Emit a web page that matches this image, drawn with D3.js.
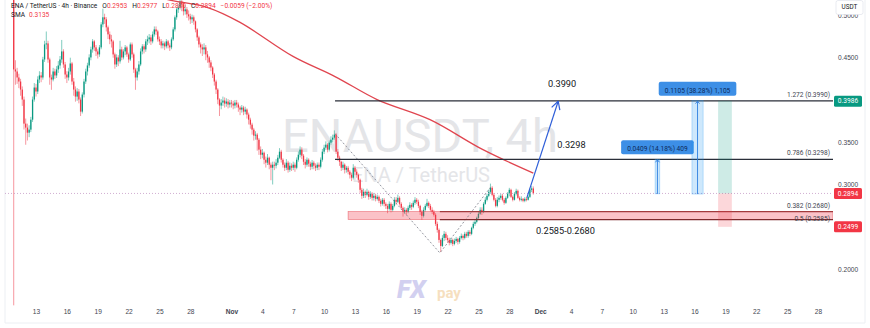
<!DOCTYPE html>
<html>
<head>
<meta charset="utf-8">
<script src="https://cdn.jsdelivr.net/npm/d3@7"></script>
<style>
  html, body { margin: 0; padding: 0; background: #fff; }
  svg { display: block; font-family: Roboto, "Liberation Sans", Arial, sans-serif; }
</style>
</head>
<body>
<svg id="chart" width="870" height="328"></svg>
<script>
// ENA / TetherUS 4h candles, first candle 2025-10-10 00:00 UTC
const firstOpen = 0.580

const closes = [
  0.582,0.588,0.577,0.584,0.571,0.4361,            // Oct 10
  0.4337,0.4266,0.4218,0.4123,0.4005,0.3720,       // Oct 11
  0.3673,0.3613,0.3649,0.3767,0.4005,0.4147,
  0.4100,0.4242,0.4290,0.4266,0.4479,0.4657,       // Oct 13
  0.4669,0.4479,0.4266,0.4242,0.4337,0.4290,
  0.4361,0.4408,0.4479,0.4574,0.4420,0.4301,
  0.4266,0.4337,0.4432,0.4218,0.4123,0.4040,       // Oct 16
  0.4100,0.4005,0.3862,0.4064,0.4218,0.4337,
  0.4408,0.4503,0.4598,0.4693,0.4622,0.4574,
  0.4539,0.4622,0.4894,0.4978,0.4954,0.4859,       // Oct 19
  0.4776,0.4717,0.4693,0.4539,0.4420,0.4503,
  0.4456,0.4598,0.4503,0.4574,0.4622,0.4539,
  0.4479,0.4657,0.4539,0.4361,0.4266,0.4337,       // Oct 22
  0.4420,0.4574,0.4634,0.4598,0.4693,0.4717,
  0.4740,0.4693,0.4776,0.4835,0.4811,0.4717,
  0.4693,0.4645,0.4669,0.4634,0.4693,0.4645,       // Oct 25
  0.4622,0.4717,0.4835,0.4978,0.5072,0.5096,
  0.5167,0.5132,0.5049,0.5072,0.5013,0.4989,
  0.4954,0.4978,0.4930,0.4835,0.4740,0.4657,       // Oct 28
  0.4622,0.4598,0.4622,0.4539,0.4503,0.4444,
  0.4384,0.4301,0.4218,0.4123,0.4005,0.3934,
  0.3969,0.3993,0.3957,0.3981,0.3946,0.3969,       // Oct 31
  0.3957,0.3934,0.3969,0.3946,0.3910,0.3886,
  0.3910,0.3862,0.3886,0.3827,0.3767,0.3708,
  0.3649,0.3578,0.3590,0.3530,0.3412,0.3352,       // Nov 3
  0.3376,0.3293,0.3258,0.3317,0.3234,0.3198,
  0.3234,0.3222,0.3258,0.3317,0.3388,0.3293,
  0.3234,0.3198,0.3258,0.3174,0.3222,0.3198,       // Nov 6
  0.3234,0.3198,0.3293,0.3352,0.3412,0.3341,
  0.3269,0.3234,0.3293,0.3246,0.3210,0.3258,
  0.3222,0.3198,0.3234,0.3210,0.3293,0.3388,       // Nov 9
  0.3436,0.3471,0.3412,0.3495,0.3530,0.3554,
  0.3590,0.3388,0.3317,0.3269,0.3198,0.3234,
  0.3174,0.3198,0.3151,0.3115,0.3080,0.3198,       // Nov 12
  0.3151,0.3115,0.3056,0.2937,0.2866,0.2913,
  0.2878,0.2913,0.2854,0.2890,0.2842,0.2866,
  0.2830,0.2854,0.2807,0.2771,0.2819,0.2771,       // Nov 15
  0.2747,0.2712,0.2771,0.2700,0.2747,0.2819,
  0.2795,0.2842,0.2771,0.2724,0.2676,0.2700,
  0.2676,0.2724,0.2759,0.2736,0.2783,0.2819,       // Nov 18
  0.2795,0.2747,0.2676,0.2629,0.2700,0.2747,
  0.2783,0.2747,0.2700,0.2676,0.2641,0.2534,
  0.2463,0.2344,0.2273,0.2368,0.2416,0.2368,       // Nov 21
  0.2344,0.2309,0.2344,0.2297,0.2332,0.2356,
  0.2321,0.2368,0.2392,0.2368,0.2416,0.2392,
  0.2439,0.2416,0.2487,0.2534,0.2558,0.2605,       // Nov 24
  0.2653,0.2700,0.2676,0.2771,0.2819,0.2866,
  0.2913,0.2961,0.2878,0.2819,0.2747,0.2819,
  0.2842,0.2866,0.2819,0.2783,0.2842,0.2890,       // Nov 27
  0.2937,0.2854,0.2819,0.2890,0.2925,0.2842,
  0.2819,0.2830,0.2807,0.2830,0.2819,0.2854,
  0.2937,0.2953,0.2894                             // Nov 30
]

const highs = [
  0.590,0.595,0.590,0.590,0.586,0.580,
  0.447,0.438,0.431,0.425,0.416,0.404,
  0.378,0.372,0.370,0.380,0.404,0.420,
  0.419,0.428,0.434,0.433,0.451,0.470,
  0.481,0.470,0.450,0.430,0.438,0.437,
  0.440,0.446,0.452,0.471,0.460,0.445,
  0.434,0.438,0.450,0.445,0.426,0.416,
  0.414,0.413,0.403,0.409,0.425,0.437,
  0.444,0.454,0.463,0.472,0.471,0.465,
  0.460,0.465,0.492,0.508,0.502,0.498,
  0.488,0.481,0.477,0.471,0.456,0.454,
  0.453,0.470,0.463,0.460,0.465,0.464,
  0.456,0.468,0.468,0.456,0.438,0.438,
  0.446,0.461,0.466,0.466,0.472,0.476,
  0.478,0.477,0.481,0.487,0.487,0.483,
  0.475,0.472,0.470,0.469,0.472,0.471,
  0.467,0.474,0.486,0.500,0.510,0.513,
  0.528,0.524,0.516,0.512,0.510,0.506,
  0.502,0.501,0.500,0.494,0.485,0.476,
  0.468,0.466,0.467,0.465,0.458,0.452,
  0.447,0.440,0.432,0.424,0.414,0.402,
  0.401,0.404,0.403,0.402,0.401,0.400,
  0.400,0.399,0.400,0.400,0.397,0.393,
  0.394,0.393,0.392,0.390,0.385,0.379,
  0.373,0.367,0.363,0.361,0.355,0.345,
  0.342,0.339,0.333,0.336,0.333,0.326,
  0.327,0.327,0.330,0.335,0.343,0.341,
  0.331,0.326,0.330,0.328,0.326,0.325,
  0.327,0.326,0.332,0.339,0.345,0.344,
  0.336,0.330,0.332,0.331,0.327,0.329,
  0.328,0.325,0.326,0.326,0.332,0.342,
  0.347,0.351,0.349,0.352,0.357,0.359,
  0.364,0.361,0.342,0.334,0.328,0.327,
  0.325,0.322,0.322,0.317,0.314,0.324,
  0.322,0.318,0.313,0.307,0.296,0.295,
  0.293,0.295,0.293,0.292,0.291,0.290,
  0.289,0.288,0.287,0.283,0.284,0.284,
  0.279,0.277,0.280,0.279,0.277,0.285,
  0.285,0.288,0.286,0.279,0.274,0.273,
  0.272,0.275,0.279,0.278,0.281,0.285,
  0.284,0.282,0.276,0.270,0.273,0.277,
  0.283,0.280,0.277,0.273,0.270,0.266,
  0.256,0.248,0.236,0.240,0.245,0.244,
  0.240,0.237,0.237,0.236,0.236,0.238,
  0.237,0.239,0.242,0.241,0.244,0.244,
  0.246,0.246,0.250,0.256,0.258,0.262,
  0.268,0.273,0.273,0.279,0.285,0.289,
  0.294,0.301,0.298,0.290,0.284,0.285,
  0.287,0.289,0.289,0.284,0.286,0.291,
  0.296,0.295,0.287,0.291,0.295,0.294,
  0.286,0.286,0.284,0.285,0.285,0.287,
  0.295,0.298,0.2977
]

const lows = [
  0.574,0.578,0.572,0.573,0.565,0.157,
  0.418,0.419,0.414,0.405,0.393,0.365,
  0.347,0.352,0.356,0.362,0.374,0.398,
  0.404,0.407,0.420,0.421,0.424,0.445,
  0.460,0.444,0.418,0.412,0.422,0.425,
  0.426,0.432,0.437,0.444,0.438,0.425,
  0.420,0.423,0.430,0.418,0.405,0.398,
  0.399,0.396,0.381,0.384,0.403,0.419,
  0.429,0.438,0.447,0.456,0.458,0.452,
  0.449,0.451,0.460,0.486,0.490,0.481,
  0.472,0.466,0.462,0.450,0.437,0.439,
  0.440,0.443,0.447,0.448,0.453,0.451,
  0.444,0.446,0.450,0.432,0.412,0.423,
  0.430,0.440,0.454,0.455,0.457,0.465,
  0.467,0.465,0.467,0.475,0.477,0.469,
  0.465,0.461,0.461,0.459,0.461,0.461,
  0.458,0.460,0.470,0.481,0.495,0.503,
  0.507,0.505,0.500,0.501,0.497,0.494,
  0.490,0.491,0.489,0.480,0.470,0.462,
  0.455,0.452,0.454,0.447,0.444,0.438,
  0.434,0.426,0.417,0.407,0.395,0.381,
  0.389,0.393,0.391,0.392,0.390,0.391,
  0.391,0.389,0.390,0.391,0.386,0.382,
  0.385,0.382,0.383,0.378,0.371,0.366,
  0.359,0.352,0.353,0.340,0.335,0.330,
  0.331,0.324,0.320,0.323,0.318,0.305,
  0.300,0.317,0.319,0.323,0.330,0.326,
  0.320,0.316,0.317,0.314,0.315,0.316,
  0.317,0.315,0.318,0.327,0.332,0.330,
  0.323,0.319,0.321,0.321,0.317,0.318,
  0.318,0.316,0.317,0.317,0.319,0.327,
  0.336,0.341,0.338,0.339,0.347,0.350,
  0.353,0.336,0.328,0.322,0.316,0.317,
  0.313,0.314,0.312,0.307,0.304,0.306,
  0.311,0.308,0.302,0.290,0.283,0.284,
  0.284,0.286,0.282,0.283,0.281,0.281,
  0.280,0.281,0.278,0.274,0.275,0.274,
  0.271,0.266,0.269,0.267,0.268,0.273,
  0.276,0.278,0.275,0.270,0.262,0.265,
  0.264,0.266,0.270,0.270,0.272,0.276,
  0.277,0.272,0.264,0.258,0.261,0.268,
  0.273,0.272,0.268,0.265,0.262,0.251,
  0.243,0.231,0.220,0.226,0.233,0.234,
  0.231,0.228,0.229,0.227,0.228,0.231,
  0.229,0.230,0.235,0.234,0.235,0.237,
  0.237,0.239,0.240,0.247,0.251,0.254,
  0.259,0.264,0.264,0.266,0.276,0.280,
  0.285,0.289,0.286,0.280,0.273,0.273,
  0.279,0.282,0.280,0.276,0.277,0.283,
  0.286,0.284,0.280,0.281,0.287,0.283,
  0.280,0.280,0.279,0.279,0.280,0.281,
  0.284,0.291,0.288
]

// SMA line
const smaTimes = ["2025-10-24T02:00Z","2025-10-25T17:30Z","2025-10-29T15:00Z","2025-11-01T20:00Z",
  "2025-11-06T23:30Z","2025-11-11T01:30Z","2025-11-15T03:30Z","2025-11-20T07:00Z",
  "2025-11-25T10:30Z","2025-11-30T08:00Z"]
const smaValues = [0.527, 0.519, 0.5096, 0.4918, 0.4515, 0.4277, 0.4005, 0.3767, 0.3412, 0.3135]

// fib levels
const fibRatios = ["1.272", "0.786", "0.382", "0.5"]
const fibPrices = [0.3990, 0.3298, 0.2680, 0.2585]
const fibStarts = ["2025-11-11T01:30Z", "2025-11-11T01:30Z", "2025-11-21T06:00Z", "2025-11-21T06:00Z"]
const zoneStart = "2025-11-12T08:00Z"

// dotted swing legs: high -> low -> rebound
const swingTimes = ["2025-11-11T01:30Z", "2025-11-21T06:00Z", "2025-11-26T07:00Z"]
const swingPrices = [0.3601, 0.2190, 0.2985]

// projection arrow
const arrowTimes = ["2025-11-29T17:00Z", "2025-12-02T18:00Z"]
const arrowPrices = [0.2845, 0.3985]

// text notes
const noteTexts = ["0.3990", "0.3298", "0.2585-0.2680"]
const noteTimes = ["2025-12-01T18:00Z", "2025-12-02T16:00Z", "2025-11-30T14:00Z"]
const notePrices = [0.4150, 0.3430, 0.2420]

// price-range measures
const measureLabels = ["0.0409 (14.18%) 409", "0.1105 (38.28%) 1,105"]
const measureFrom = [0.2889, 0.2887]
const measureTo = [0.3298, 0.3992]
const measureT0 = ["2025-12-12T04:00Z", "2025-12-15T18:00Z"]
const measureT1 = ["2025-12-12T15:00Z", "2025-12-16T20:00Z"]

// long position box
const posTimes = ["2025-12-18T07:00Z", "2025-12-19T15:00Z"]
const posEntry = 0.2894, posTarget = 0.3990, posStop = 0.2499

// axes
const xTicks = ["2025-10-13","2025-10-16","2025-10-19","2025-10-22","2025-10-25","2025-10-28",
  "2025-11-01","2025-11-04","2025-11-07","2025-11-10","2025-11-13","2025-11-16","2025-11-19",
  "2025-11-22","2025-11-25","2025-11-28","2025-12-01","2025-12-04","2025-12-07","2025-12-10",
  "2025-12-13","2025-12-16","2025-12-19","2025-12-22","2025-12-25","2025-12-28"]
const yTicks = [0.20, 0.30, 0.35, 0.45, 0.50]
const tagValues = [0.3986, 0.2894, 0.2499]
const tagUp = [true, false, false]

const UP = "#089981", DOWN = "#f23645", INK = "#131722"
const plotL = 5, plotR = 833, plotB = 306
const svg = d3.select("#chart")
const parse = s => new Date(s)

const x = d3.scaleUtc()
  .domain([new Date(Date.UTC(2025, 9, 13)), new Date(Date.UTC(2025, 11, 28))])
  .range([36, 818])
const y = d3.scaleLinear().domain([0.2, 0.45]).range([269, 57.7])

const t0 = Date.UTC(2025, 9, 10, 0), step = 4 * 3600 * 1000
const candles = closes.map((c, i) => ({
  t: new Date(t0 + i * step),
  o: i ? closes[i - 1] : firstOpen,
  h: highs[i], l: lows[i], c: c
}))

svg.append("defs").append("clipPath").attr("id", "plot")
  .append("rect").attr("x", plotL).attr("y", 0).attr("width", plotR - plotL).attr("height", plotB)

// frame
svg.append("line").attr("x1", 865).attr("x2", 865).attr("y1", 0).attr("y2", 323).attr("stroke", "#eceff3")
svg.append("line").attr("x1", plotL).attr("x2", 865).attr("y1", 323).attr("y2", 323).attr("stroke", "#eceff3")
svg.append("line").attr("x1", plotL).attr("x2", plotL).attr("y1", 0).attr("y2", 323).attr("stroke", "#eceff3")

// watermark
svg.append("text").attr("x", 420).attr("y", 152).attr("text-anchor", "middle")
  .attr("font-size", 47).attr("fill", "#e4e5e8").text("ENAUSDT, 4h")
svg.append("text").attr("x", 421).attr("y", 182).attr("text-anchor", "middle")
  .attr("font-size", 20).attr("fill", "#e4e5e8").text("ENA / TetherUS")

// FXpay logo
const logo = svg.append("g")
logo.append("text").attr("x", 397).attr("y", 298).attr("font-size", 25).attr("font-weight", 900)
  .attr("font-style", "italic").attr("fill", "#d2d0f0").text("FX")
logo.append("text").attr("x", 437).attr("y", 298).attr("font-size", 15).attr("font-weight", 700)
  .attr("fill", "#f6dfc0").text("pay")

const plot = svg.append("g").attr("clip-path", "url(#plot)")

// candles
const bw = 1.3
const cg = plot.append("g")
cg.selectAll("line").data(candles).join("line")
  .attr("x1", d => x(d.t)).attr("x2", d => x(d.t))
  .attr("y1", d => y(Math.max(d.h, d.o, d.c))).attr("y2", d => y(Math.min(d.l, d.o, d.c)))
  .attr("stroke", d => d.c >= d.o ? "#5fbfae" : "#f47c87").attr("stroke-width", 0.8)
cg.selectAll("rect").data(candles).join("rect")
  .attr("x", d => x(d.t) - bw / 2).attr("width", bw)
  .attr("y", d => y(Math.max(d.o, d.c)))
  .attr("height", d => Math.max(0.8, Math.abs(y(d.o) - y(d.c))))
  .attr("fill", d => d.c >= d.o ? UP : DOWN)

// SMA
const sma = smaTimes.map((t, i) => [parse(t), smaValues[i]])
plot.append("path").datum(sma)
  .attr("d", d3.line().x(d => x(d[0])).y(d => y(d[1])).curve(d3.curveCatmullRom))
  .attr("fill", "none").attr("stroke", "#e0454f").attr("stroke-width", 1.3)

// current price line
plot.append("line").attr("x1", plotL).attr("x2", plotR).attr("y1", y(0.2894)).attr("y2", y(0.2894))
  .attr("stroke", "#c79ac6").attr("stroke-dasharray", "1,2").attr("stroke-width", 0.8)

// support zone
plot.append("rect").attr("x", x(parse(zoneStart))).attr("width", plotR - x(parse(zoneStart)))
  .attr("y", y(fibPrices[2])).attr("height", y(fibPrices[3]) - y(fibPrices[2]))
  .attr("fill", "rgba(242,54,69,0.3)").attr("stroke", "rgba(226,60,70,0.6)").attr("stroke-width", 0.7)

// fib levels
fibPrices.forEach((p, i) => {
  const red = i >= 2
  svg.append("line").attr("x1", x(parse(fibStarts[i]))).attr("x2", plotR)
    .attr("y1", y(p)).attr("y2", y(p))
    .attr("stroke", red ? (i === 2 ? "#a23a3c" : "#7d2a2c") : "#2a2e39").attr("stroke-width", 1.2)
  svg.append("text").attr("x", 830).attr("y", y(p) - (i === 3 ? -1 : 4))
    .attr("text-anchor", "end").attr("font-size", 6.6).attr("fill", "#434651")
    .text(`${fibRatios[i]} (${p.toFixed(4)})`)
})

// swing legs
const swing = swingTimes.map((t, i) => [parse(t), swingPrices[i]])
plot.append("path").datum(swing)
  .attr("d", d3.line().x(d => x(d[0])).y(d => y(d[1])))
  .attr("fill", "none").attr("stroke", "#787b86").attr("stroke-width", 0.8).attr("stroke-dasharray", "2,2")

// projection arrow
const ax0 = x(parse(arrowTimes[0])), ay0 = y(arrowPrices[0])
const ax1 = x(parse(arrowTimes[1])), ay1 = y(arrowPrices[1])
const ang = Math.atan2(ay1 - ay0, ax1 - ax0)
svg.append("line").attr("x1", ax0).attr("y1", ay0).attr("x2", ax1).attr("y2", ay1)
  .attr("stroke", "#2f5fd8").attr("stroke-width", 1.2)
;[-0.5, 0.5].forEach(da => {
  svg.append("line").attr("x1", ax1).attr("y1", ay1)
    .attr("x2", ax1 - 9 * Math.cos(ang + da)).attr("y2", ay1 - 9 * Math.sin(ang + da))
    .attr("stroke", "#2f5fd8").attr("stroke-width", 1.2)
})

// annotation labels
noteTexts.forEach((n, i) => {
  svg.append("text").attr("x", x(parse(noteTimes[i]))).attr("y", y(notePrices[i]))
    .attr("font-size", 9.2).attr("fill", INK).text(n)
})

// position box
const px0 = x(parse(posTimes[0])), px1 = x(parse(posTimes[1]))
svg.append("rect").attr("x", px0).attr("width", px1 - px0).attr("y", y(posTarget))
  .attr("height", y(posEntry) - y(posTarget)).attr("fill", "rgba(8,153,129,0.2)")
svg.append("rect").attr("x", px0).attr("width", px1 - px0).attr("y", y(posEntry))
  .attr("height", y(posStop) - y(posEntry)).attr("fill", "rgba(242,54,69,0.2)")

// measures
measureLabels.forEach((lab, i) => {
  const mx0 = x(parse(measureT0[i])), mx1 = x(parse(measureT1[i]))
  const my0 = y(measureFrom[i]), my1 = y(measureTo[i])
  const cx = (mx0 + mx1) / 2
  svg.append("rect").attr("x", mx0).attr("width", mx1 - mx0).attr("y", my1).attr("height", my0 - my1)
    .attr("fill", "rgba(33,150,243,0.22)").attr("stroke", "rgba(33,150,243,0.45)").attr("stroke-width", 0.6)
  svg.append("line").attr("x1", cx).attr("x2", cx).attr("y1", my0).attr("y2", my1 + 0.5)
    .attr("stroke", "#2f7fe0").attr("stroke-width", 0.9)
  svg.append("path").attr("d", `M${cx - 2},${my1 + 3}L${cx},${my1 + 0.5}L${cx + 2},${my1 + 3}`)
    .attr("fill", "none").attr("stroke", "#2f7fe0").attr("stroke-width", 0.9)
  const t = svg.append("text").attr("x", cx).attr("y", my1 - 8).attr("text-anchor", "middle")
    .attr("font-size", 6.6).attr("fill", "#0d2a59").text(lab)
  const w = t.node().getComputedTextLength() + 12
  svg.insert("rect", () => t.node()).attr("x", cx - w / 2).attr("y", my1 - 19).attr("width", w)
    .attr("height", 14).attr("rx", 2).attr("fill", "#3d8fe6")
})

// right axis
const yAxis = svg.append("g").attr("transform", `translate(${plotR},0)`)
  .call(d3.axisRight(y).tickValues(yTicks).tickFormat(d3.format(".4f")).tickSize(0).tickPadding(5))
yAxis.select(".domain").remove()
yAxis.selectAll("text").attr("font-size", 6.6).attr("fill", "#434651").attr("font-family", null)

tagValues.forEach((v, i) => {
  svg.append("rect").attr("x", 834).attr("y", y(v) - 5.5).attr("width", 28).attr("height", 11)
    .attr("rx", 1.5).attr("fill", tagUp[i] ? UP : DOWN)
  svg.append("text").attr("x", 848).attr("y", y(v) + 2.3).attr("text-anchor", "middle")
    .attr("font-size", 6.6).attr("fill", "#fff").text(v.toFixed(4))
})

// USDT box (covers most of the top tick label)
svg.append("rect").attr("x", 836).attr("y", 0.5).attr("width", 27).attr("height", 14).attr("rx", 2)
  .attr("fill", "#fff").attr("stroke", "#e0e3eb").attr("stroke-width", 0.7)
svg.append("text").attr("x", 849.5).attr("y", 9).attr("text-anchor", "middle")
  .attr("font-size", 6.4).attr("fill", INK).text("USDT")

// bottom axis
const xAxis = svg.append("g").attr("transform", "translate(0,309)")
  .call(d3.axisBottom(x).tickValues(xTicks.map(d => new Date(d + "T00:00Z"))).tickSize(0).tickPadding(0)
    .tickFormat(d => d.getUTCDate() === 1 ? d3.utcFormat("%b")(d) : d.getUTCDate()))
xAxis.select(".domain").remove()
xAxis.selectAll("text").attr("font-size", 6.6).attr("fill", "#434651").attr("font-family", null)
  .attr("font-weight", d => d.getUTCDate() === 1 ? 700 : 400)

// legend
const lg = svg.append("text").attr("x", 11).attr("y", 8).attr("font-size", 6.6).attr("fill", INK)
lg.append("tspan").text("ENA / TetherUS · 4h · Binance")
const ohlc = [["O", "0.2953"], ["H", "0.2977"], ["L", "0.2880"], ["C", "0.2894"]]
ohlc.forEach(p => {
  lg.append("tspan").attr("dx", 5).text(p[0])
  lg.append("tspan").attr("fill", DOWN).text(p[1])
})
lg.append("tspan").attr("dx", 5).attr("fill", DOWN).text("−0.0059 (−2.00%)")
const sl = svg.append("text").attr("x", 11).attr("y", 17).attr("font-size", 6.6).attr("fill", INK)
sl.append("tspan").text("SMA")
sl.append("tspan").attr("dx", 4).attr("fill", DOWN).text("0.3135")
</script>
</body>
</html>
